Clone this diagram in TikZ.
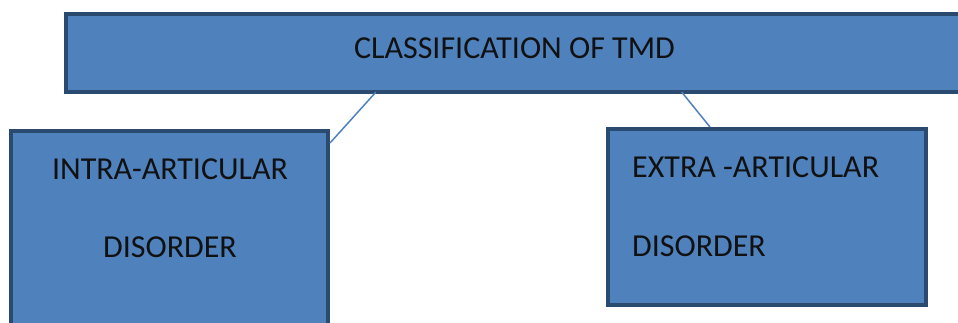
\documentclass[tikz,border=0pt]{standalone}
\usepackage{fontspec}
\setmainfont{Carlito}
\definecolor{boxfill}{HTML}{4F81BD}
\definecolor{boxline}{HTML}{2A4A70}
\definecolor{inktext}{HTML}{111111}
\begin{document}
\begin{tikzpicture}[x=1pt, y=1pt,
  box/.style={draw=boxline, fill=boxfill, line width=4pt, rectangle, inner sep=0pt},
  band/.style={fill=boxfill, rectangle, inner sep=0pt},
  rim/.style={draw=boxline, line width=4pt},
  txt/.style={text=inktext, font=\fontsize{32}{38}\selectfont, inner sep=0pt},
  link/.style={draw=boxfill, line width=1.5pt}]
\useasboundingbox (0,0) rectangle (958,323);

% top box, running off the right edge
\node[band, minimum width=960pt, minimum height=78pt] (tmd) at (546,270) {};
\draw[rim] (tmd.north east) -- (tmd.north west) -- (tmd.south west) -- (tmd.south east);
\node[txt, anchor=base] (tmdtext) at (514.5,264) {CLASSIFICATION OF TMD};

% left box
\node[box, minimum width=317pt, minimum height=212pt] (intra) at (169.5,86) {};
\node[txt, anchor=base] (intraone) at (170,143) {INTRA-ARTICULAR};
\node[txt, anchor=base] (intratwo) at (170,65) {DISORDER};

% right box
\node[box, minimum width=318pt, minimum height=176pt] (extra) at (767,106) {};
\node[txt, anchor=base west] (extraone) at (632,145) {EXTRA -ARTICULAR};
\node[txt, anchor=base west] (extratwo) at (632,66) {DISORDER};

\draw[link] ([xshift=310pt]tmd.south west) -- ([yshift=-14pt]intra.north east);
\draw[link] ([xshift=616pt]tmd.south west) -- ([xshift=104pt]extra.north west);

\end{tikzpicture}
\end{document}
